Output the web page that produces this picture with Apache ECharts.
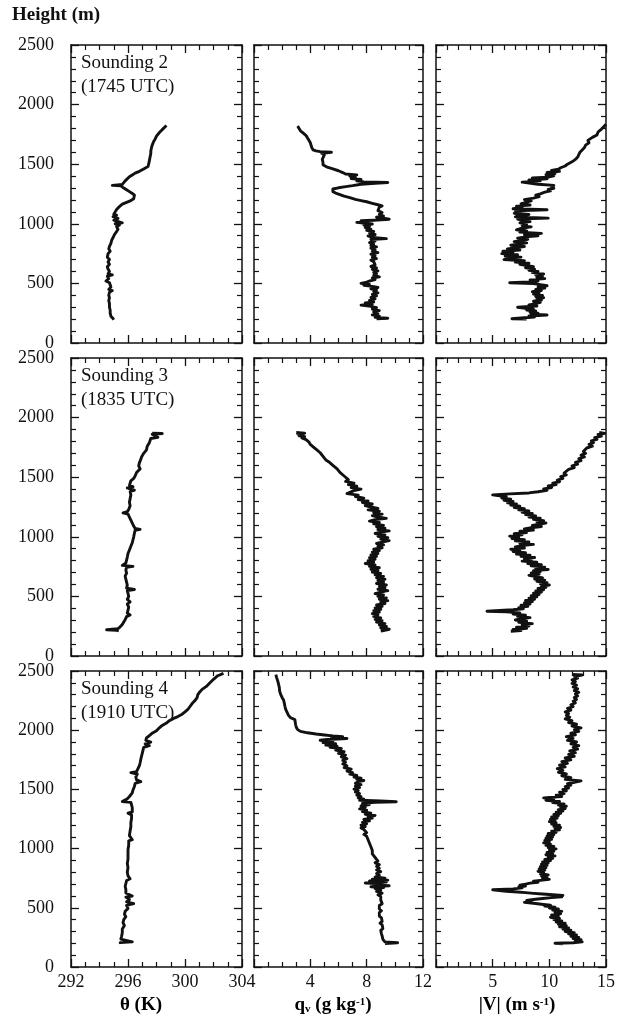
<!DOCTYPE html>
<html>
<head>
<meta charset="utf-8">
<script src="https://cdn.jsdelivr.net/npm/echarts@6/dist/echarts.min.js"></script>
<style>
  html, body { margin: 0; padding: 0; background: #fff; }
  #chart { width: 618px; height: 1019px; }
</style>
</head>
<body>
<div id="chart"></div>
<script>
// soundings: [value, height in m] from top to bottom
var theta2 = [[298.7,1825],[298.6,1810],[298.4,1790],[298.2,1765],[298.0,1735],[297.9,1710],[297.8,1690],[297.7,1660],[297.65,1640],[297.6,1610],[297.6,1590],[297.55,1560],[297.5,1530],[297.45,1500],[297.4,1480],[297.1,1460],[296.8,1440],[296.5,1425],[296.3,1410],[296.1,1395],[296.0,1380],[295.8,1360],[295.7,1345],[295.6,1330],[294.9,1322],[295.5,1318],[295.7,1300],[295.9,1285],[296.1,1270],[296.3,1255],[296.45,1240],[296.5,1225],[296.4,1210],[296.2,1195],[295.9,1180],[295.6,1165],[295.4,1145],[295.2,1120],[295.1,1100],[295.0,1080],[295.2,1072],[294.95,1060],[295.3,1045],[295.0,1030],[295.1,1015],[295.6,1008],[295.1,1000],[295.4,990],[295.2,975],[295.3,955],[295.2,935],[295.05,910],[294.95,885],[294.85,860],[294.8,835],[294.7,810],[294.65,790],[294.75,770],[294.6,750],[294.7,735],[294.55,720],[294.7,700],[294.6,680],[294.7,660],[294.55,640],[294.6,620],[294.7,600],[294.6,580],[294.9,572],[294.55,560],[294.65,540],[294.45,520],[294.7,505],[294.6,490],[294.8,470],[294.65,450],[294.9,440],[294.7,425],[294.65,400],[294.7,380],[294.65,355],[294.7,330],[294.7,300],[294.75,275],[294.75,250],[294.8,225],[294.95,205],[295.0,195]];

var qv2 = [[3.1,1820],[3.2,1800],[3.3,1780],[3.5,1760],[3.7,1740],[3.8,1720],[3.9,1700],[4.0,1680],[4.05,1660],[4.1,1640],[4.2,1620],[4.4,1612],[4.7,1605],[5.5,1600],[4.8,1592],[5.0,1580],[4.9,1565],[4.85,1540],[4.9,1515],[4.9,1495],[5.2,1475],[5.6,1460],[6.0,1445],[6.3,1430],[6.5,1418],[7.3,1410],[6.8,1400],[7.2,1390],[6.9,1380],[7.6,1372],[7.3,1360],[7.8,1352],[9.5,1346],[8.6,1340],[7.6,1332],[7.0,1320],[6.4,1310],[6.0,1302],[5.6,1292],[5.5,1282],[5.6,1270],[5.8,1258],[6.1,1245],[6.4,1232],[6.8,1220],[7.2,1205],[7.6,1195],[8.0,1185],[8.4,1172],[8.8,1160],[9.1,1150],[8.9,1140],[9.0,1125],[8.8,1110],[9.1,1095],[8.9,1080],[9.2,1065],[8.7,1055],[9.3,1045],[9.6,1038],[8.5,1030],[7.6,1025],[8.1,1018],[7.3,1012],[7.9,1005],[8.4,998],[7.8,990],[8.2,980],[7.9,968],[8.3,955],[8.0,945],[8.5,935],[8.2,922],[8.6,910],[8.1,898],[8.4,885],[9.4,876],[8.3,868],[8.6,855],[8.2,842],[8.5,830],[8.3,818],[8.7,806],[8.3,795],[8.6,782],[8.4,770],[8.8,758],[8.3,745],[8.6,732],[8.4,720],[8.7,708],[8.3,695],[8.5,682],[8.4,668],[8.6,655],[8.3,642],[8.7,630],[8.4,618],[8.8,605],[8.5,592],[8.7,580],[8.5,566],[8.9,555],[8.4,545],[8.6,532],[8.2,520],[8.0,510],[7.6,500],[8.2,492],[7.8,484],[8.4,475],[8.8,466],[8.3,455],[8.7,445],[8.5,432],[8.8,420],[8.4,408],[8.7,395],[8.3,382],[8.6,370],[8.2,358],[8.5,345],[7.9,336],[8.4,326],[7.6,318],[8.3,308],[8.7,296],[8.4,284],[8.9,272],[8.5,260],[8.8,248],[8.4,236],[8.9,226],[8.6,215],[9.5,208],[8.7,203]];

var wind2 = [[15.0,1835],[14.8,1815],[14.6,1795],[14.3,1770],[14.2,1745],[13.8,1725],[13.4,1700],[13.5,1680],[13.2,1660],[13.1,1640],[12.9,1620],[12.7,1600],[12.6,1580],[12.5,1560],[12.3,1540],[12.0,1520],[11.6,1500],[11.4,1485],[11.0,1470],[10.8,1458],[10.2,1448],[10.9,1440],[9.8,1430],[10.5,1422],[9.7,1412],[10.4,1402],[9.9,1392],[8.5,1385],[9.8,1378],[8.2,1368],[9.2,1360],[7.6,1350],[7.7,1340],[9.0,1332],[10.4,1322],[10.2,1310],[10.4,1298],[9.9,1288],[10.1,1276],[9.6,1265],[9.2,1252],[8.8,1240],[9.1,1228],[8.6,1215],[7.8,1203],[8.4,1192],[7.9,1180],[7.5,1168],[8.3,1158],[7.1,1148],[7.6,1138],[6.8,1126],[9.8,1118],[7.0,1110],[7.5,1100],[6.9,1088],[8.2,1078],[7.3,1068],[7.0,1058],[9.9,1048],[7.2,1040],[7.6,1030],[8.3,1018],[7.4,1008],[8.0,996],[7.6,985],[8.4,974],[7.5,962],[7.1,950],[8.0,940],[7.4,930],[9.3,920],[7.8,910],[9.0,900],[7.9,890],[7.2,880],[8.1,870],[7.5,860],[6.9,850],[8.0,840],[7.3,830],[6.6,820],[7.8,810],[7.1,800],[6.3,790],[7.4,780],[5.9,770],[6.8,760],[5.8,750],[7.2,740],[6.1,730],[7.5,720],[6.3,710],[6.0,700],[7.8,690],[7.0,680],[8.2,670],[7.4,660],[8.0,650],[8.6,640],[7.9,630],[8.7,620],[8.2,610],[9.0,600],[8.5,590],[9.5,580],[8.8,570],[9.4,560],[8.9,550],[9.6,540],[8.3,530],[9.0,520],[8.2,512],[6.5,505],[8.6,498],[9.2,490],[9.8,480],[9.0,470],[9.6,460],[8.8,450],[9.3,440],[8.5,430],[9.1,420],[8.6,410],[9.4,400],[8.8,390],[9.5,380],[8.9,370],[9.3,360],[8.6,350],[9.2,340],[8.8,330],[8.2,320],[8.9,310],[7.2,300],[7.9,292],[8.6,284],[8.0,276],[8.8,268],[8.3,258],[9.0,250],[8.4,242],[9.8,235],[8.2,226],[8.7,218],[7.5,210],[6.7,204],[8.0,200]];

var theta3 = [[297.7,1870],[298.4,1866],[297.7,1860],[297.6,1845],[298.1,1835],[297.6,1825],[297.7,1812],[297.5,1790],[297.35,1760],[297.3,1730],[297.1,1700],[296.95,1670],[296.9,1650],[296.8,1620],[296.75,1595],[296.85,1570],[296.6,1540],[296.5,1510],[296.4,1490],[296.2,1470],[296.15,1450],[296.1,1430],[296.35,1420],[295.95,1410],[296.2,1400],[296.45,1392],[296.15,1380],[296.2,1350],[296.15,1320],[296.1,1290],[296.15,1260],[296.05,1230],[295.95,1210],[295.65,1200],[296.0,1190],[296.1,1165],[296.2,1140],[296.3,1115],[296.4,1090],[296.5,1070],[296.85,1062],[296.5,1055],[296.45,1030],[296.4,1000],[296.35,975],[296.3,950],[296.2,920],[296.1,890],[296.0,860],[295.95,830],[295.9,805],[295.85,780],[295.6,760],[296.35,752],[295.9,745],[295.85,720],[295.9,695],[295.8,670],[295.85,645],[295.9,620],[295.95,595],[295.9,570],[296.45,558],[295.95,548],[296.0,525],[296.05,500],[295.95,475],[296.15,455],[295.95,435],[296.05,410],[296.0,385],[295.95,360],[296.15,345],[295.9,330],[295.8,305],[295.7,285],[295.6,265],[295.45,245],[295.3,230],[294.5,220],[295.2,215],[295.35,212]];

var qv3 = [[3.0,1875],[3.6,1870],[3.1,1862],[3.5,1855],[3.2,1848],[3.6,1840],[3.4,1830],[3.7,1815],[3.9,1795],[4.0,1775],[4.2,1755],[4.4,1735],[4.3,1720],[4.7,1705],[4.6,1690],[4.9,1675],[4.8,1660],[5.1,1645],[5.3,1630],[5.2,1615],[5.6,1600],[5.5,1585],[5.9,1570],[5.8,1555],[6.1,1540],[6.0,1525],[6.4,1510],[6.3,1495],[6.7,1480],[6.5,1465],[7.1,1450],[6.7,1438],[7.3,1425],[6.9,1412],[7.6,1400],[7.1,1388],[7.0,1375],[6.6,1362],[7.4,1350],[7.2,1338],[7.8,1325],[7.4,1312],[8.1,1300],[7.7,1288],[8.4,1275],[7.9,1262],[8.3,1250],[8.8,1238],[8.1,1226],[8.9,1214],[8.5,1202],[9.1,1190],[8.4,1178],[8.8,1166],[9.4,1155],[8.6,1144],[8.2,1132],[8.9,1120],[8.5,1108],[9.2,1096],[8.7,1084],[9.3,1072],[8.8,1060],[9.6,1050],[9.0,1040],[8.6,1028],[9.3,1016],[8.8,1004],[9.5,992],[9.0,980],[9.6,968],[9.1,956],[8.7,944],[9.2,932],[8.8,920],[9.1,908],[8.5,896],[8.9,884],[8.4,872],[8.8,860],[8.3,848],[8.7,836],[8.2,824],[8.6,812],[8.1,800],[8.5,788],[7.9,776],[8.6,764],[8.2,752],[8.9,740],[8.3,728],[8.8,716],[8.4,704],[9.0,692],[8.6,680],[9.2,668],[8.7,656],[9.3,644],[8.8,632],[9.2,620],[8.7,608],[9.4,596],[8.9,584],[9.3,572],[8.8,560],[9.5,548],[9.0,536],[8.6,524],[9.2,512],[8.8,500],[9.4,488],[8.9,476],[9.5,464],[9.0,452],[9.3,440],[8.7,428],[9.1,416],[8.6,404],[9.0,392],[8.5,380],[8.9,368],[8.4,356],[8.8,344],[8.5,332],[9.0,320],[8.6,308],[9.1,296],[8.7,284],[9.3,272],[8.9,260],[9.4,248],[9.0,236],[9.6,224],[9.2,214],[9.0,210]];

var wind3 = [[14.4,1875],[14.9,1868],[14.3,1858],[14.6,1845],[14.0,1832],[14.2,1818],[13.7,1805],[13.9,1790],[13.5,1775],[13.8,1760],[13.3,1745],[13.4,1730],[13.0,1715],[13.2,1700],[12.8,1685],[13.1,1670],[12.6,1655],[12.8,1640],[12.3,1625],[12.5,1610],[12.0,1595],[12.2,1580],[11.7,1565],[11.8,1550],[11.3,1535],[11.5,1520],[11.0,1505],[11.2,1490],[10.7,1475],[10.9,1462],[10.3,1450],[10.6,1438],[9.9,1426],[10.2,1414],[9.5,1402],[9.8,1390],[9.0,1378],[8.2,1368],[6.5,1360],[5.0,1352],[5.6,1344],[6.2,1336],[5.8,1326],[6.6,1316],[6.0,1306],[6.8,1296],[6.3,1286],[7.1,1276],[6.6,1266],[7.4,1256],[6.9,1246],[7.8,1236],[7.3,1226],[8.2,1216],[7.6,1206],[8.5,1196],[7.9,1186],[8.8,1176],[8.2,1166],[9.2,1156],[8.6,1146],[9.5,1136],[8.9,1126],[9.7,1116],[9.1,1106],[8.5,1096],[9.3,1086],[8.4,1076],[7.8,1066],[8.6,1056],[7.4,1046],[8.0,1036],[6.9,1026],[7.6,1016],[6.5,1006],[7.3,996],[6.7,986],[7.8,976],[7.0,966],[8.2,956],[7.4,946],[8.6,936],[7.6,926],[7.0,916],[7.8,906],[6.6,896],[7.4,886],[6.8,876],[7.9,866],[7.1,856],[8.3,846],[7.5,836],[8.7,826],[7.8,816],[8.4,806],[7.6,796],[8.9,786],[8.1,776],[9.3,766],[8.4,756],[9.6,746],[8.8,736],[9.9,726],[8.6,716],[9.2,706],[8.4,696],[9.1,686],[8.2,676],[8.8,666],[9.4,656],[8.7,646],[9.6,636],[8.9,626],[9.8,616],[9.2,606],[10.0,596],[9.3,586],[9.7,576],[9.0,566],[9.5,556],[8.8,546],[9.3,536],[8.6,526],[9.1,516],[8.4,506],[8.9,496],[8.2,486],[8.7,476],[7.9,466],[8.5,456],[7.8,446],[8.3,436],[7.5,426],[8.1,416],[7.3,406],[7.7,396],[6.8,388],[5.6,382],[4.5,376],[6.2,370],[7.4,362],[6.8,352],[7.9,342],[7.2,332],[8.3,322],[7.5,312],[7.0,302],[8.0,292],[7.3,282],[8.5,272],[7.6,262],[8.2,252],[7.1,242],[8.0,232],[6.8,222],[7.5,214],[6.6,208]];

var theta4 = [[302.7,2480],[302.3,2460],[302.0,2430],[301.7,2395],[301.5,2370],[301.2,2345],[301.05,2325],[300.9,2300],[300.85,2275],[300.7,2250],[300.5,2225],[300.35,2200],[300.2,2175],[300.0,2155],[299.8,2135],[299.5,2115],[299.2,2100],[298.9,2080],[298.7,2060],[298.4,2040],[298.2,2020],[298.0,1995],[297.7,1975],[297.5,1955],[297.3,1935],[297.25,1915],[297.6,1900],[297.2,1885],[297.5,1870],[297.1,1855],[297.05,1830],[297.0,1805],[296.95,1780],[296.9,1755],[296.85,1725],[296.8,1700],[296.7,1675],[296.6,1650],[296.2,1642],[296.65,1630],[296.55,1605],[296.6,1580],[296.9,1565],[296.5,1550],[296.45,1525],[296.35,1495],[296.3,1470],[296.1,1440],[295.95,1420],[295.6,1398],[296.2,1390],[296.25,1370],[296.3,1345],[296.3,1310],[296.0,1300],[296.25,1285],[296.25,1255],[296.2,1220],[296.2,1185],[296.15,1150],[296.1,1110],[296.3,1075],[296.05,1065],[296.05,1030],[296.0,990],[296.0,950],[296.0,910],[295.95,875],[296.0,840],[295.95,800],[296.0,770],[296.15,745],[295.9,730],[295.85,705],[295.8,680],[295.85,655],[295.85,625],[296.3,600],[295.85,590],[296.1,570],[295.9,550],[296.4,535],[295.9,520],[296.0,495],[295.8,470],[295.75,445],[295.85,425],[295.7,400],[295.65,375],[295.75,350],[295.6,320],[295.6,290],[295.55,260],[295.5,235],[295.4,220],[296.3,212],[295.45,206],[295.5,200]];

var qv4 = [[1.55,2470],[1.62,2440],[1.7,2410],[1.75,2385],[1.8,2360],[1.82,2330],[1.9,2300],[2.0,2275],[2.1,2255],[2.15,2230],[2.2,2200],[2.25,2175],[2.35,2150],[2.45,2125],[2.6,2105],[2.9,2090],[3.0,2075],[2.95,2050],[3.0,2025],[3.1,2005],[3.3,1990],[3.8,1978],[4.4,1968],[5.0,1960],[5.6,1952],[6.3,1945],[5.5,1938],[6.6,1930],[5.2,1922],[4.7,1915],[5.6,1905],[4.9,1895],[5.8,1885],[5.1,1875],[5.9,1865],[5.4,1855],[6.2,1845],[5.8,1832],[6.4,1818],[6.0,1805],[6.5,1790],[6.2,1775],[6.6,1760],[6.3,1745],[6.5,1730],[6.3,1715],[6.6,1700],[6.4,1685],[6.9,1670],[6.6,1655],[7.0,1642],[6.8,1630],[7.3,1618],[7.1,1605],[7.6,1595],[7.3,1585],[7.8,1575],[7.4,1565],[7.2,1552],[7.6,1540],[7.2,1528],[7.5,1515],[7.1,1502],[7.4,1490],[7.2,1478],[7.5,1465],[7.3,1452],[7.6,1440],[7.4,1428],[7.8,1418],[7.5,1408],[9.0,1402],[10.1,1396],[8.6,1390],[7.7,1382],[8.2,1372],[7.6,1360],[7.9,1348],[7.5,1336],[8.0,1324],[7.7,1312],[8.3,1300],[7.9,1290],[8.6,1280],[8.1,1270],[8.4,1258],[7.8,1246],[8.2,1234],[7.7,1222],[8.0,1210],[7.6,1198],[7.9,1186],[7.6,1174],[7.8,1162],[7.7,1150],[8.0,1135],[7.8,1120],[8.0,1105],[7.9,1090],[8.1,1075],[8.0,1060],[8.2,1045],[8.1,1030],[8.3,1015],[8.2,1000],[8.4,985],[8.3,970],[8.4,955],[8.3,940],[8.6,925],[8.5,910],[8.8,895],[8.6,880],[8.9,865],[8.7,850],[8.9,835],[8.7,820],[9.0,805],[8.7,790],[8.9,775],[8.6,760],[9.3,750],[8.4,742],[9.5,734],[8.2,726],[9.4,718],[7.9,710],[9.1,702],[8.5,694],[9.6,686],[8.3,678],[9.2,670],[8.6,662],[9.0,650],[8.7,638],[9.1,624],[8.8,610],[9.0,595],[8.9,580],[9.0,565],[8.9,550],[9.1,535],[8.9,520],[9.0,505],[8.9,490],[9.05,475],[8.9,460],[9.0,445],[8.9,430],[9.05,415],[8.95,400],[9.1,385],[8.95,370],[9.1,355],[9.0,340],[9.15,325],[9.0,310],[9.1,295],[9.05,280],[9.1,262],[9.0,248],[9.15,234],[9.1,222],[9.3,212],[10.2,205],[9.6,201],[9.3,198]];

var wind4 = [[12.0,2470],[12.9,2466],[12.2,2455],[12.5,2440],[12.0,2425],[12.3,2410],[12.0,2395],[12.4,2380],[12.1,2365],[12.5,2350],[12.2,2335],[12.6,2320],[12.3,2305],[12.5,2290],[12.2,2275],[12.4,2260],[12.1,2245],[12.3,2230],[11.9,2215],[12.1,2200],[11.6,2185],[11.9,2170],[11.4,2155],[11.7,2140],[11.5,2125],[11.8,2110],[11.4,2095],[12.0,2080],[11.7,2065],[12.4,2050],[12.0,2035],[12.8,2020],[12.2,2005],[12.6,1990],[11.9,1975],[12.3,1960],[11.5,1945],[12.1,1930],[11.6,1915],[12.4,1900],[11.9,1885],[12.6,1870],[12.1,1855],[12.5,1840],[11.8,1825],[12.3,1810],[11.7,1795],[12.2,1780],[11.4,1765],[11.9,1750],[11.1,1735],[11.6,1720],[10.9,1705],[11.4,1690],[10.7,1675],[11.2,1660],[10.8,1645],[11.5,1630],[11.1,1615],[11.9,1600],[11.4,1585],[12.8,1572],[12.2,1560],[11.6,1548],[11.9,1536],[11.4,1524],[11.7,1512],[11.2,1500],[11.5,1488],[10.9,1476],[11.3,1464],[10.6,1452],[11.1,1440],[9.5,1428],[10.4,1418],[9.7,1408],[10.9,1398],[10.3,1388],[11.3,1378],[10.8,1368],[11.5,1358],[11.0,1348],[11.4,1338],[10.8,1328],[11.2,1318],[10.6,1308],[11.0,1298],[10.4,1288],[10.8,1278],[10.2,1268],[10.7,1258],[10.1,1248],[10.5,1238],[10.0,1228],[10.6,1218],[10.2,1208],[10.9,1198],[10.4,1188],[11.0,1178],[10.5,1168],[10.9,1158],[10.2,1148],[10.6,1138],[9.9,1128],[10.4,1118],[9.8,1108],[10.3,1098],[9.7,1088],[10.2,1078],[9.6,1068],[10.0,1058],[9.5,1048],[10.1,1038],[9.7,1028],[10.4,1018],[9.9,1008],[10.6,998],[10.0,988],[10.4,978],[9.8,968],[10.3,958],[9.7,948],[10.5,938],[9.9,928],[10.3,918],[9.6,908],[10.1,898],[9.4,888],[9.9,878],[9.3,868],[9.8,858],[9.2,848],[9.7,838],[9.1,828],[9.6,818],[9.0,808],[9.5,798],[9.2,788],[9.9,778],[9.3,768],[9.8,758],[9.4,748],[10.0,740],[9.2,732],[8.6,724],[9.0,716],[8.3,708],[7.9,700],[7.4,692],[7.9,684],[7.3,676],[7.6,668],[6.8,660],[5.0,652],[4.9,646],[6.2,640],[7.2,634],[7.9,628],[8.6,622],[9.4,616],[10.3,610],[11.2,604],[10.4,598],[11.1,592],[10.2,586],[9.4,578],[8.6,570],[8.0,562],[8.4,554],[7.8,546],[8.6,538],[9.3,530],[10.1,522],[9.6,514],[10.5,506],[10.0,498],[10.8,490],[10.3,480],[11.1,470],[10.5,460],[11.0,450],[10.2,440],[10.8,430],[10.1,420],[10.9,410],[10.4,400],[11.1,390],[10.6,380],[11.4,370],[10.8,360],[11.5,350],[10.9,340],[11.7,330],[11.2,320],[11.9,310],[11.4,300],[12.2,290],[11.7,280],[12.4,270],[11.9,260],[12.6,250],[12.1,240],[12.8,230],[12.3,220],[12.9,212],[12.1,205],[10.5,200],[11.2,196]];

var soundingNames = ['Sounding 2\n(1745 UTC)', 'Sounding 3\n(1835 UTC)', 'Sounding 4\n(1910 UTC)'];
var profiles = [[theta2, qv2, wind2], [theta3, qv3, wind3], [theta4, qv4, wind4]];

// x axis ranges: theta (K), q_v (g/kg), |V| (m/s)
var xMin = [292, 0, 0];
var xMax = [304, 12, 15];
var xStep = [4, 4, 5];
var xMinor = [4, 4, 5];
var heightMax = 2500;
var heightStep = 500;

var FONT = '"Liberation Serif", "Times New Roman", serif';
var INK = '#111';

var cols = [{ left: 71, width: 171 }, { left: 254, width: 169 }, { left: 436, width: 170 }];
var rows = [{ top: 45, height: 298 }, { top: 358, height: 298 }, { top: 671, height: 296 }];

var grids = [], xAxes = [], yAxes = [], series = [], graphics = [];

function plain(v) { return String(v); }

function tickStyle(show) {
    return {
        axisLine: { show: true, onZero: false, lineStyle: { color: INK, width: 1.5 } },
        axisTick: { show: true, inside: true, length: 8, lineStyle: { color: INK, width: 1.3 } },
        minorTick: { show: true, length: 5, lineStyle: { color: INK, width: 1.2 } },
        splitLine: { show: false },
        axisLabel: { show: show, formatter: plain }
    };
}

for (var r = 0; r < 3; r++) {
    for (var c = 0; c < 3; c++) {
        var g = grids.length;
        grids.push({ left: cols[c].left, top: rows[r].top, width: cols[c].width, height: rows[r].height });

        [ 'bottom', 'top' ].forEach(function(pos) {
            var ax = tickStyle(pos === 'bottom' && r === 2);
            ax.type = 'value';
            ax.gridIndex = g;
            ax.position = pos;
            ax.min = xMin[c];
            ax.max = xMax[c];
            ax.interval = xStep[c];
            ax.minorTick.splitNumber = xMinor[c];
            ax.axisLabel.fontFamily = FONT;
            ax.axisLabel.fontSize = 18;
            ax.axisLabel.color = INK;
            ax.axisLabel.margin = 6;
            ax.axisLabel.showMinLabel = (c === 0);
            xAxes.push(ax);
        });
        [ 'left', 'right' ].forEach(function(pos) {
            var ay = tickStyle(pos === 'left' && c === 0);
            ay.type = 'value';
            ay.gridIndex = g;
            ay.position = pos;
            ay.min = 0;
            ay.max = heightMax;
            ay.interval = heightStep;
            ay.minorTick.splitNumber = 5;
            ay.axisLabel.fontFamily = FONT;
            ay.axisLabel.fontSize = 18;
            ay.axisLabel.color = INK;
            ay.axisLabel.margin = 17;
            yAxes.push(ay);
        });

        series.push({
            type: 'line',
            xAxisIndex: g * 2,
            yAxisIndex: g * 2,
            data: profiles[r][c],
            showSymbol: false,
            symbol: 'none',
            animation: false,
            lineStyle: { color: INK, width: 2.9, join: 'round' }
        });
    }
    graphics.push({
        type: 'text',
        left: 81,
        top: rows[r].top + 6,
        style: { text: soundingNames[r], font: '19px ' + FONT, fill: INK, lineHeight: 24 }
    });
}

graphics.push({
    type: 'text', left: 12, top: 6,
    style: { text: 'Height (m)', font: 'bold 19px ' + FONT, fill: INK }
});

var rich = {
    a: { fontFamily: FONT, fontSize: 19, fontWeight: 'bold', color: INK, lineHeight: 24 },
    sub: { fontFamily: FONT, fontSize: 11, fontWeight: 'bold', color: INK, lineHeight: 24, verticalAlign: 'bottom', padding: [0, 0, 2, 0] },
    sup: { fontFamily: FONT, fontSize: 11, fontWeight: 'bold', color: INK, lineHeight: 24, verticalAlign: 'top', padding: [4, 0, 0, 0] }
};
var axisTitles = [
    { x: 141, text: '{a|θ (K)}' },
    { x: 333, text: '{a|q}{sub|v}{a| (g kg}{sup|-1}{a|)}' },
    { x: 517, text: '{a||V| (m s}{sup|-1}{a|)}' }
];
axisTitles.forEach(function(t) {
    graphics.push({
        type: 'text', x: t.x, y: 1005,
        style: { text: t.text, rich: rich, align: 'center', verticalAlign: 'middle' }
    });
});

var chart = echarts.init(document.getElementById('chart'));
chart.setOption({
    animation: false,
    backgroundColor: '#fff',
    grid: grids,
    xAxis: xAxes,
    yAxis: yAxes,
    series: series,
    graphic: graphics
});
</script>
</body>
</html>
